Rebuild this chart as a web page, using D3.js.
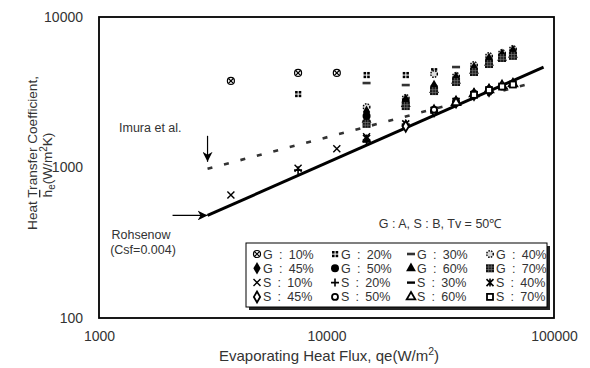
<!DOCTYPE html>
<html>
<head>
<meta charset="utf-8">
<script src="https://cdn.jsdelivr.net/npm/d3@7"></script>
<style>
  body { margin: 0; background: #fff; }
  svg text { font-family: "Liberation Sans", Arial, sans-serif; fill: #333; }
</style>
</head>
<body>
<div id="chart"></div>
<script>
var w = 590,
  h = 368;

// axis ticks
var qTicks = [1000, 10000, 100000];
var hTicks = [100, 1000, 10000];

// correlations  [heat flux, h]
var rohsenow = [[3000, 480], [90000, 4650]];
var imura = [[3000, 980], [80000, 3640]];

// measured points  [heat flux, h]
var g10 = [[3800, 3760], [7500, 4250], [11100, 4250]];
var g20 = [[7500, 3080], [15000, 4120], [22300, 4120], [29700, 4370]];
var g30 = [[15000, 3640], [22300, 3530], [37100, 4650]];
var g40 = [[15000, 2520], [22300, 2900], [29700, 4180], [37100, 4060], [44500, 4800], [51800, 5510], [59100, 5770], [66000, 6130]];
var g45 = [[15000, 2340], [22300, 2810], [29700, 3480], [37100, 3940], [44500, 4580], [51800, 5260], [59100, 5600], [66000, 5940]];
var g50 = [[15000, 2200], [22300, 2730], [29700, 3380], [37100, 3820], [44500, 4440], [51800, 5100], [59100, 5430], [66000, 5680]];
var g60 = [[15000, 2070], [22300, 2640], [29700, 3270], [37100, 3760], [44500, 4380], [51800, 4950], [59100, 5340], [66000, 5600]];
var g70 = [[15000, 1950], [22300, 2560], [29700, 3220], [37100, 3700], [44500, 4310], [51800, 4870], [59100, 5340], [66000, 5520]];

var s10 = [[3800, 657], [7500, 990], [11100, 1330], [15000, 1600]];
var s20 = [[7500, 960], [15000, 1480], [22300, 1900]];
var s30 = [[15000, 1500], [22300, 1930], [29700, 2350], [37100, 2700]];
var s40 = [[15000, 1560], [22300, 1950], [29700, 2400], [37100, 2750], [44500, 3050]];
var s45 = [[22300, 1880], [29700, 2380], [37100, 2720], [44500, 3050], [51800, 3250]];
var s50 = [[29700, 2420], [37100, 2760], [44500, 3100], [51800, 3300], [59100, 3450]];
var s60 = [[37100, 2700], [44500, 3080], [51800, 3280], [59100, 3500], [66000, 3600]];
var s70 = [[44500, 3040], [51800, 3270], [59100, 3450], [66000, 3560]];

var legendLabels = ['G : 10%', 'G : 20%', 'G : 30%', 'G : 40%',
  'G : 45%', 'G : 50%', 'G : 60%', 'G : 70%',
  'S : 10%', 'S : 20%', 'S : 30%', 'S : 40%',
  'S : 45%', 'S : 50%', 'S : 60%', 'S : 70%'];
var seriesData = [g10, g20, g30, g40, g45, g50, g60, g70,
  s10, s20, s30, s40, s45, s50, s60, s70];

var plotL = 99, plotR = 554, plotT = 17, plotB = 318;

var x = d3.scaleLog().domain([1000, 100000]).range([plotL, plotR]);
var y = d3.scaleLog().domain([100, 10000]).range([plotB, plotT]);

var svg = d3.select('#chart').append('svg')
  .attr('width', w)
  .attr('height', h);

// marker painters, one per series
function marker(g, k) {
  var r = 4;
  switch (k) {
    case 0: // circle with x
      g.append('circle').attr('r', 3.5).attr('fill', '#fff').attr('stroke', '#000').attr('stroke-width', 1.2);
      g.append('path').attr('d', 'M-2.4,-2.4L2.4,2.4M-2.4,2.4L2.4,-2.4').attr('stroke', '#000').attr('stroke-width', 1.2);
      break;
    case 1: // four small squares
      [[-3, -3], [0.6, -3], [-3, 0.6], [0.6, 0.6]].forEach(function (p) {
        g.append('rect').attr('x', p[0]).attr('y', p[1]).attr('width', 2.6).attr('height', 2.6).attr('fill', '#000');
      });
      break;
    case 2: // dash
      g.append('rect').attr('x', -4).attr('y', -1.3).attr('width', 8).attr('height', 2.6).attr('fill', '#333');
      break;
    case 3: // dotted circle
      g.append('circle').attr('r', 3.3).attr('fill', '#ddd').attr('stroke', '#000').attr('stroke-width', 1.4).attr('stroke-dasharray', '1.5,1.2');
      break;
    case 4:
      g.append('path').attr('d', d3.symbol(d3.symbolDiamond, 46)()).attr('fill', '#000');
      break;
    case 5:
      g.append('circle').attr('r', r).attr('fill', '#000');
      break;
    case 6:
      g.append('path').attr('d', d3.symbol(d3.symbolTriangle, 42)()).attr('fill', '#000');
      break;
    case 7: // hatched square
      g.append('rect').attr('x', -r).attr('y', -r).attr('width', 2 * r).attr('height', 2 * r).attr('fill', '#111');
      g.append('path').attr('d', 'M-4,-1.3H4M-4,1.3H4M-1.3,-4V4M1.3,-4V4').attr('stroke', '#888').attr('stroke-width', 0.6);
      break;
    case 8: // x
      g.append('path').attr('d', 'M-3.5,-3.5L3.5,3.5M-3.5,3.5L3.5,-3.5').attr('stroke', '#000').attr('stroke-width', 1.4);
      break;
    case 9: // +
      g.append('path').attr('d', 'M-4,0H4M0,-4V4').attr('stroke', '#000').attr('stroke-width', 1.6);
      break;
    case 10: // -
      g.append('path').attr('d', 'M-4,0H4').attr('stroke', '#000').attr('stroke-width', 2.4);
      break;
    case 11: // asterisk
      g.append('path').attr('d', 'M-3.5,-3.5L3.5,3.5M-3.5,3.5L3.5,-3.5M0,-4V4').attr('stroke', '#000').attr('stroke-width', 1.6);
      break;
    case 12:
      g.append('path').attr('d', d3.symbol(d3.symbolDiamond, 34)()).attr('fill', '#fff').attr('stroke', '#000').attr('stroke-width', 1.8);
      break;
    case 13:
      g.append('circle').attr('r', 3).attr('fill', '#fff').attr('stroke', '#000').attr('stroke-width', 1.8);
      break;
    case 14:
      g.append('path').attr('d', d3.symbol(d3.symbolTriangle, 32)()).attr('fill', '#fff').attr('stroke', '#000').attr('stroke-width', 1.8);
      break;
    case 15:
      g.append('rect').attr('x', -3).attr('y', -3).attr('width', 6).attr('height', 6).attr('fill', '#fff').attr('stroke', '#000').attr('stroke-width', 1.8);
      break;
  }
}

// frame
svg.append('rect')
  .attr('x', plotL).attr('y', plotT)
  .attr('width', plotR - plotL).attr('height', plotB - plotT)
  .attr('fill', 'none').attr('stroke', '#000').attr('stroke-width', 1.8);

// axes (labels only)
var yAxis = svg.append('g')
  .attr('transform', 'translate(' + plotL + ',0)')
  .call(d3.axisLeft(y).tickValues(hTicks).tickSize(0).tickPadding(16).tickFormat(d3.format('d')));
var xAxis = svg.append('g')
  .attr('transform', 'translate(0,' + plotB + ')')
  .call(d3.axisBottom(x).tickValues(qTicks).tickSize(0).tickPadding(13).tickFormat(d3.format('d')));
[xAxis, yAxis].forEach(function (a) {
  a.select('.domain').remove();
  a.selectAll('text').attr('font-size', 14).attr('fill', '#333')
    .style('font-family', '"Liberation Sans", Arial, sans-serif');
});

// axis titles
svg.append('text')
  .attr('x', 329).attr('y', 361)
  .attr('text-anchor', 'middle').attr('font-size', 15)
  .html('Evaporating Heat Flux, qe(W/m<tspan dy="-6" font-size="10.5">2</tspan><tspan dy="6">)</tspan>');

svg.append('text')
  .attr('transform', 'translate(37,153) rotate(-90)')
  .attr('text-anchor', 'middle').attr('font-size', 13.6)
  .text('Heat Transfer Coefficient,');
var t2 = svg.append('text')
  .attr('transform', 'translate(52,165) rotate(-90)')
  .attr('text-anchor', 'middle').attr('font-size', 13.6);
t2.append('tspan').attr('text-decoration', 'overline').text('h');
t2.append('tspan').attr('dy', 3).attr('font-size', 10).text('e');
t2.append('tspan').attr('dy', -3).text('(W/m');
t2.append('tspan').attr('dy', -5).attr('font-size', 10).text('2');
t2.append('tspan').attr('dy', 5).text('K)');

// correlation lines
var line = d3.line()
  .x(function (d) { return x(d[0]); })
  .y(function (d) { return y(d[1]); });

svg.append('path').datum(imura)
  .attr('d', line).attr('fill', 'none')
  .attr('stroke', '#333').attr('stroke-width', 2.6).attr('stroke-dasharray', '5,12');

svg.append('path').datum(rohsenow)
  .attr('d', line).attr('fill', 'none')
  .attr('stroke', '#000').attr('stroke-width', 3);

// arrows
svg.append('defs').append('marker')
  .attr('id', 'arr').attr('viewBox', '0 0 10 10')
  .attr('refX', 10).attr('refY', 5)
  .attr('markerWidth', 10).attr('markerHeight', 10)
  .attr('markerUnits', 'userSpaceOnUse')
  .attr('orient', 'auto')
  .append('path').attr('d', 'M0,0L10,5L0,10L3,5Z').attr('fill', '#000');

var ix = x(imura[0][0]), iy = y(imura[0][1]);
svg.append('line')
  .attr('x1', ix).attr('y1', iy - 33).attr('x2', ix).attr('y2', iy - 7)
  .attr('stroke', '#000').attr('stroke-width', 1.2).attr('marker-end', 'url(#arr)');

var rx = x(rohsenow[0][0]), ry = y(rohsenow[0][1]);
svg.append('line')
  .attr('x1', rx - 35).attr('y1', ry).attr('x2', rx).attr('y2', ry)
  .attr('stroke', '#000').attr('stroke-width', 1.2).attr('marker-end', 'url(#arr)');

// annotations
svg.append('text').attr('x', 119).attr('y', 132).attr('font-size', 12.5).text('Imura et al.');
svg.append('text').attr('x', 141).attr('y', 239).attr('font-size', 12.5).attr('text-anchor', 'middle').text('Rohsenow');
svg.append('text').attr('x', 143).attr('y', 254).attr('font-size', 12.5).attr('text-anchor', 'middle').text('(Csf=0.004)');
svg.append('text').attr('x', 440).attr('y', 228).attr('font-size', 12.5).attr('text-anchor', 'middle').text('G : A, S : B, Tv = 50\u2103');

// data points
seriesData.forEach(function (data, k) {
  svg.selectAll('g.pt-' + k)
    .data(data)
    .enter().append('g')
    .attr('class', 'pt-' + k)
    .attr('transform', function (d) { return 'translate(' + x(d[0]) + ',' + y(d[1]) + ')'; })
    .each(function () { marker(d3.select(this), k); });
});

// legend
var lg = svg.append('g');
lg.append('rect').attr('x', 249).attr('y', 246).attr('width', 301).attr('height', 64).attr('fill', '#222');
lg.append('rect').attr('x', 246).attr('y', 243).attr('width', 301).attr('height', 64)
  .attr('fill', '#fff').attr('stroke', '#000').attr('stroke-width', 1);

var colX = [257, 335, 411, 490];
legendLabels.forEach(function (lab, i) {
  var cx = colX[i % 4], cy = 254 + Math.floor(i / 4) * 14.3;
  var m = lg.append('g').attr('transform', 'translate(' + cx + ',' + cy + ')');
  marker(m, i);
  lg.append('text').attr('x', cx + 6).attr('y', cy + 4.5).attr('font-size', 12.5)
    .text(lab.replace(/ : /g, '\u2002:\u2002'));
});
</script>
</body>
</html>
